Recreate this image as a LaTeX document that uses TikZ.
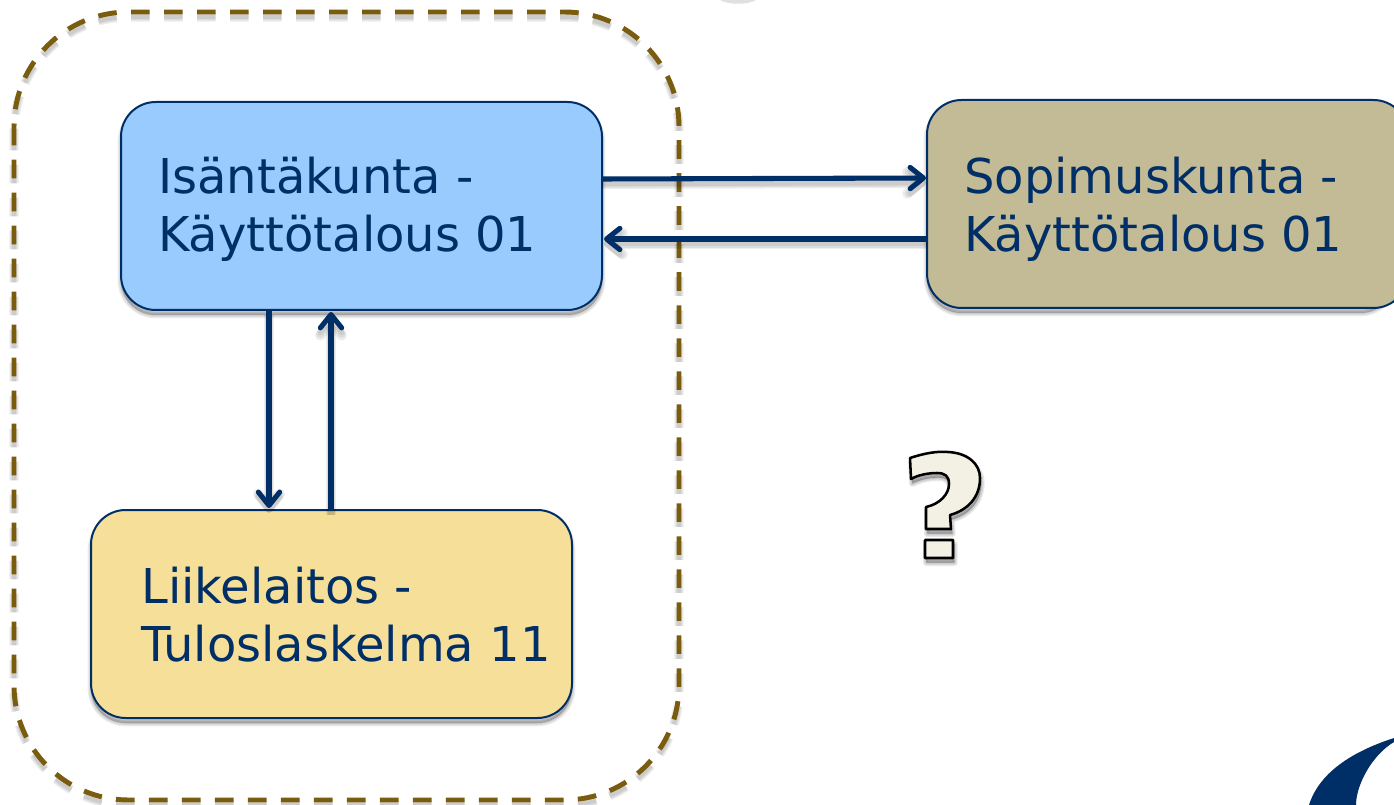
\documentclass[tikz,border=0pt]{standalone}
\usepackage{fontspec}
\setmainfont{DejaVu Sans}
\usetikzlibrary{arrows.meta}
\definecolor{navy}{RGB}{0,46,102}
\definecolor{dashbrown}{RGB}{122,92,14}
\definecolor{bluefill}{RGB}{153,203,255}
\definecolor{tanfill}{RGB}{195,187,150}
\definecolor{yellowfill}{RGB}{246,223,153}
\definecolor{qfill}{RGB}{243,240,228}
\tikzset{
  x=0.75pt,y=-0.75pt,
  entity/.style={draw=navy,line width=1.5pt,rounded corners=26pt,inner sep=0pt,outer sep=0pt,anchor=north west,minimum width=360.75pt,minimum height=156pt},
  label/.style={text=navy,font=\fontsize{36pt}{43.5pt}\selectfont,align=left,anchor=north west,inner sep=0pt},
  flow/.style={draw=navy,line width=3.8pt,-{Straight Barb[length=10pt,width=16pt,line width=3.8pt,round]}},
  flowsh/.style={draw=black,opacity=0.07,line width=#1,-{Straight Barb[length=10pt,width=16pt,line width=#1,round]}},
  boundary/.style={draw=dashbrown,line width=3.7pt,dash pattern=on 14pt off 10.75pt,rounded corners=86pt},
  boundarysh/.style={draw=black,opacity=0.07,line width=#1,dash pattern=on 14pt off 10.75pt,rounded corners=86pt},
  boxsh/.style={draw=black,fill=black,opacity=0.08,line width=#1,rounded corners=26pt}
}
\begin{document}
\begin{tikzpicture}
\useasboundingbox (0,0) rectangle (1394,805);
% boundary
\foreach \w in {3pt,5pt,7pt}{\draw[boundarysh=\w] (14,17) rectangle (679,805);}
\draw[boundary] (14,12) rectangle (679,800);
% fragment at top edge
\fill[black!12] (720,0) .. controls (728,5) and (748,5) .. (756,0) -- cycle;
% logo fragment
\fill[navy] (1394,738) .. controls (1357,750) and (1320,770) .. (1309,805) -- (1356,805) .. controls (1356,785) and (1372,755) .. (1394,742) -- cycle;
% box shadows
\foreach \w in {1pt,3pt,5pt}{
  \draw[boxsh=\w] (121,107) rectangle (602,315);
  \draw[boxsh=\w] (927,105) rectangle (1395,313);
  \draw[boxsh=\w] (91,515) rectangle (572,723);
}
% boxes
\node[entity,fill=bluefill] (host) at (121,102) {};
\node[entity,fill=tanfill] (contract) at (927,100) {};
\node[entity,fill=yellowfill] (plant) at (91,510) {};
\node[label] (hostt) at (158,157) {Isäntäkunta -\\Käyttötalous 01};
\node[label] (contractt) at (964,157) {Sopimuskunta -\\Käyttötalous 01};
\node[label] (plantt) at (141,567) {Liikelaitos -\\Tuloslaskelma 11};
% connectors
\coordinate (a1) at (host.east |- 0,179);
\coordinate (a2) at (926,178);
\coordinate (b1) at (contract.west |- 0,239);
\coordinate (b2) at (604,239);
\coordinate (c1) at (269,310);
\coordinate (c2) at (269,508);
\coordinate (d1) at (331,510);
\coordinate (d2) at (331,312);
\foreach \w in {4pt,6pt,8pt}{
  \draw[flowsh=\w] ([yshift=-3.5pt]a1) -- ([yshift=-3.5pt]a2);
  \draw[flowsh=\w] ([yshift=-3.5pt]b1) -- ([yshift=-3.5pt]b2);
  \draw[flowsh=\w] ([yshift=-3.5pt]c1) -- ([yshift=-3.5pt]c2);
  \draw[flowsh=\w] ([yshift=-3.5pt]d1) -- ([yshift=-3.5pt]d2);
}
\draw[flow] (a1) -- (a2);
\draw[flow] (b1) -- (b2);
\draw[flow] (c1) -- (c2);
\draw[flow] (d1) -- (d2);
% question mark
\def\qpath{(910,458) .. controls (925,453) and (938,451) .. (948,452) .. controls (968,453) and (980,464) .. (980,478) .. controls (980,497) and (968,510) .. (950,515) -- (951,529) -- (926,529) -- (926,507) .. controls (940,504) and (949,494) .. (949,484) .. controls (949,476) and (945,473) .. (937,473) .. controls (928,473) and (918,475) .. (911,479) -- cycle (925,540) rectangle (953,558)}
\foreach \w in {1pt,3pt,5pt}{
  \begin{scope}[yshift=-3.5pt,xshift=1pt]
    \draw[black,fill=black,opacity=0.09,line width=\w,line join=round] \qpath;
  \end{scope}
}
\draw[black,line width=1.9pt,fill=qfill,line join=round] \qpath;
\end{tikzpicture}
\end{document}
